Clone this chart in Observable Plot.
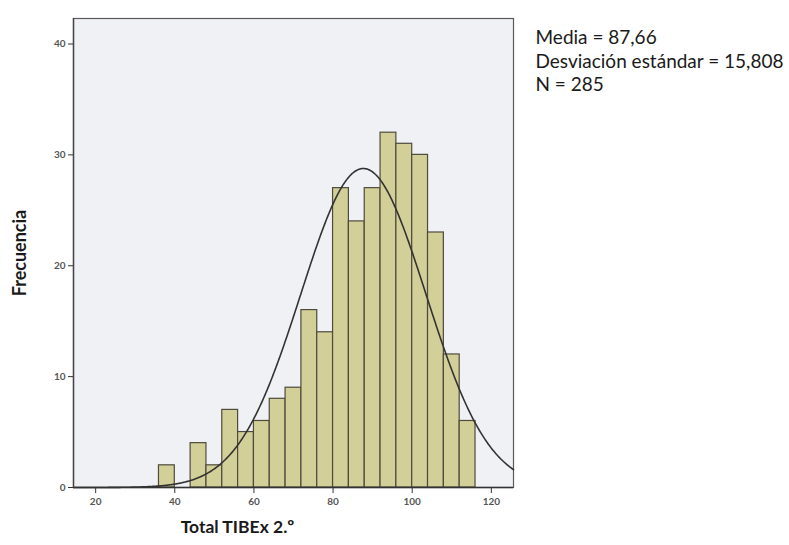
<!DOCTYPE html>
<html>
<head>
<meta charset="utf-8">
<script src="https://cdn.jsdelivr.net/npm/d3@7"></script>
<script src="https://cdn.jsdelivr.net/npm/@observablehq/plot@0.6"></script>
<style>
  html, body { margin: 0; padding: 0; background: #ffffff; }
  #chart { width: 789px; height: 545px; }
</style>
</head>
<body>
<div id="chart"></div>
<script>
// Histogram bins (lower edges) and frequencies
const binStarts = [36, 40, 44, 48, 52, 56, 60, 64, 68, 72, 76, 80, 84, 88, 92, 96, 100, 104, 108, 112];
const binWidth = 4;
const counts = [2, 0, 4, 2, 7, 5, 6, 8, 9, 16, 14, 27, 24, 27, 32, 31, 30, 23, 12, 6];

// Summary statistics shown on the chart
const mean = 87.66;
const sd = 15.808;
const n = 285;
const statLines = ["Media = 87,66", "Desviación estándar = 15,808", "N = 285"];

// Axis ticks and labels
const xTicks = [20, 40, 60, 80, 100, 120];
const yTicks = [0, 10, 20, 30, 40];
const xLabel = "Total TIBEx 2.º";
const yLabel = "Frecuencia";

const bars = binStarts
  .map((x0, i) => ({x1: x0, x2: x0 + binWidth, n: counts[i]}))
  .filter(d => d.n > 0);

// Fitted normal curve scaled to counts (SPSS overlay) from the stated mean / sd / N
const xDomain = [14.4, 125.6];
const curve = d3.range(xDomain[0], xDomain[1] + 0.001, 0.2).map(x => ({
  x,
  y: n * binWidth / (sd * Math.sqrt(2 * Math.PI)) * Math.exp(-0.5 * ((x - mean) / sd) ** 2)
}));

const chart = Plot.plot({
  width: 789,
  height: 545,
  marginLeft: 73,
  marginRight: 276,
  marginTop: 18,
  marginBottom: 58,
  style: {background: "#ffffff", fontFamily: "Lato, 'Open Sans', sans-serif"},
  x: {domain: xDomain},
  y: {domain: [0, 42.3]},
  marks: [
    Plot.frame({fill: "#eff1f5", stroke: "#5a5a5a", strokeWidth: 1.2}),
    Plot.rectY(bars, {x1: "x1", x2: "x2", y: "n", fill: "#d3cf98", stroke: "#4e4a3c", strokeWidth: 1.2}),
    Plot.line(curve, {x: "x", y: "y", stroke: "#333333", strokeWidth: 1.6, curve: "linear"}),
    Plot.ruleY([0], {stroke: "#333333", strokeWidth: 1.4}),
    Plot.ruleX([xDomain[0]], {stroke: "#444444", strokeWidth: 1.4}),
    Plot.axisX({ticks: xTicks, tickSize: 6, tickPadding: 4, fontSize: 10, fontWeight: "bold",
      color: "#555555", stroke: "#333333", label: null}),
    Plot.axisY({ticks: yTicks, tickSize: 5, tickPadding: 3, fontSize: 10, fontWeight: "bold",
      color: "#555555", stroke: "#333333", label: null}),
    Plot.text([statLines.join("\n")], {frameAnchor: "top-right", dx: 22, dy: 9, textAnchor: "start",
      lineAnchor: "top", lineHeight: 1.24, fontSize: 19, fill: "#1a1a1a",
      fontFamily: "Lato, sans-serif"}),
    Plot.text([yLabel], {frameAnchor: "left", dx: -53, rotate: -90, textAnchor: "middle",
      fontSize: 18, fontWeight: "bold", fill: "#1a1a1a", fontFamily: "Lato, sans-serif"}),
    Plot.text([xLabel], {frameAnchor: "bottom", dx: -56, dy: 45, textAnchor: "middle",
      fontSize: 17.5, fontWeight: "bold", fill: "#1a1a1a", fontFamily: "Lato, sans-serif"})
  ]
});

document.getElementById("chart").appendChild(chart);
</script>
</body>
</html>
